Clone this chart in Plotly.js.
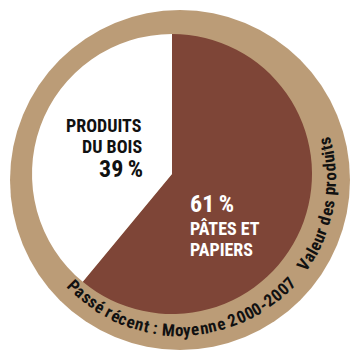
<!DOCTYPE html>
<html>
<head>
<meta charset="utf-8">
<script src="https://cdn.plot.ly/plotly-3.0.1.min.js"></script>
<style>html,body{margin:0;padding:0;background:#fff;}#chart{width:352px;height:350px;}</style>
</head>
<body>
<div id="chart"></div>
<script>
// ---- data ----
const categories = ['PÂTES ET PAPIERS', 'PRODUITS DU BOIS'];
const shares = [61, 39];
const sliceColors = ['#7e4537', '#ffffff'];
const ringTextBottom = 'Passé récent : Moyenne 2000-2007';
const ringTextRight = 'Valeur des produits';

// ---- layout helpers ----
const W = 352, H = 350;
const FONT = 'Roboto Condensed';
const px = x => x / W;
const py = y => 1 - y / H;

const annotations = [];

// slice labels
function lab(text, x, y, size, color, anchor) {
  annotations.push({text: text, x: px(x), y: py(y), xref: 'paper', yref: 'paper',
    showarrow: false, xanchor: anchor, yanchor: 'middle', borderpad: 0,
    font: {family: FONT, size: size, color: color, weight: 'bold'}});
}
const woodWords = categories[1].split(' ');
lab(woodWords[0], 143, 125, 18, '#111', 'right');
lab(woodWords.slice(1).join(' '), 143, 146, 18, '#111', 'right');
lab(shares[1] + '\u2009%', 144, 169, 24, '#111', 'right');
const pulpWords = categories[0].split(' ');
lab(shares[0] + '\u2009%', 189, 204, 24, '#fff', 'left');
lab(pulpWords.slice(0, 2).join(' '), 189, 228, 18, '#fff', 'left');
lab(pulpWords.slice(2).join(' '), 189, 249, 18, '#fff', 'left');

// curved ring text
const cx = 180, cy = 180, R = 150;
const canvas = document.createElement('canvas');
const ctx = canvas.getContext('2d');
function arcText(str, phiStart, phiEnd, size) {
  ctx.font = 'bold ' + size + 'px "' + FONT + '"';
  const ws = Array.from(str).map(c => ctx.measureText(c).width);
  const total = ws.reduce((a, b) => a + b, 0);
  const arcLen = (phiStart - phiEnd) * Math.PI / 180 * R;
  const k = arcLen / total;
  let s = 0;
  Array.from(str).forEach((ch, i) => {
    const mid = (s + ws[i] / 2) * k;
    s += ws[i];
    if (ch === ' ') return;
    const phi = phiStart * Math.PI / 180 - mid / R;
    const x = cx + R * Math.cos(phi), y = cy + R * Math.sin(phi);
    annotations.push({text: ch, x: px(x), y: py(y), xref: 'paper', yref: 'paper',
      showarrow: false, xanchor: 'center', yanchor: 'middle', borderpad: 0,
      textangle: phi * 180 / Math.PI - 90,
      font: {family: FONT, size: size, color: '#111', weight: 'bold'}});
  });
}
arcText(ringTextBottom, 137, 41.5, 17);
arcText(ringTextRight, 36.5, -16.5, 17);

const data = [{
  type: 'pie',
  labels: categories,
  values: shares,
  sort: false,
  direction: 'clockwise',
  rotation: 0,
  textinfo: 'none',
  hoverinfo: 'skip',
  marker: {colors: sliceColors, line: {width: 0}},
  domain: {x: [px(32), px(312)], y: [py(314), py(34)]},
  showlegend: false
}];

const layout = {
  width: W, height: H,
  margin: {l: 0, r: 0, t: 0, b: 0},
  paper_bgcolor: '#fff',
  plot_bgcolor: '#fff',
  showlegend: false,
  shapes: [{type: 'circle', xref: 'paper', yref: 'paper', layer: 'below',
    x0: px(10), x1: px(350), y0: py(350), y1: py(10),
    fillcolor: '#bb9c77', line: {width: 0}}],
  annotations: annotations
};

Plotly.newPlot('chart', data, layout, {staticPlot: true, displayModeBar: false});
</script>
</body>
</html>
